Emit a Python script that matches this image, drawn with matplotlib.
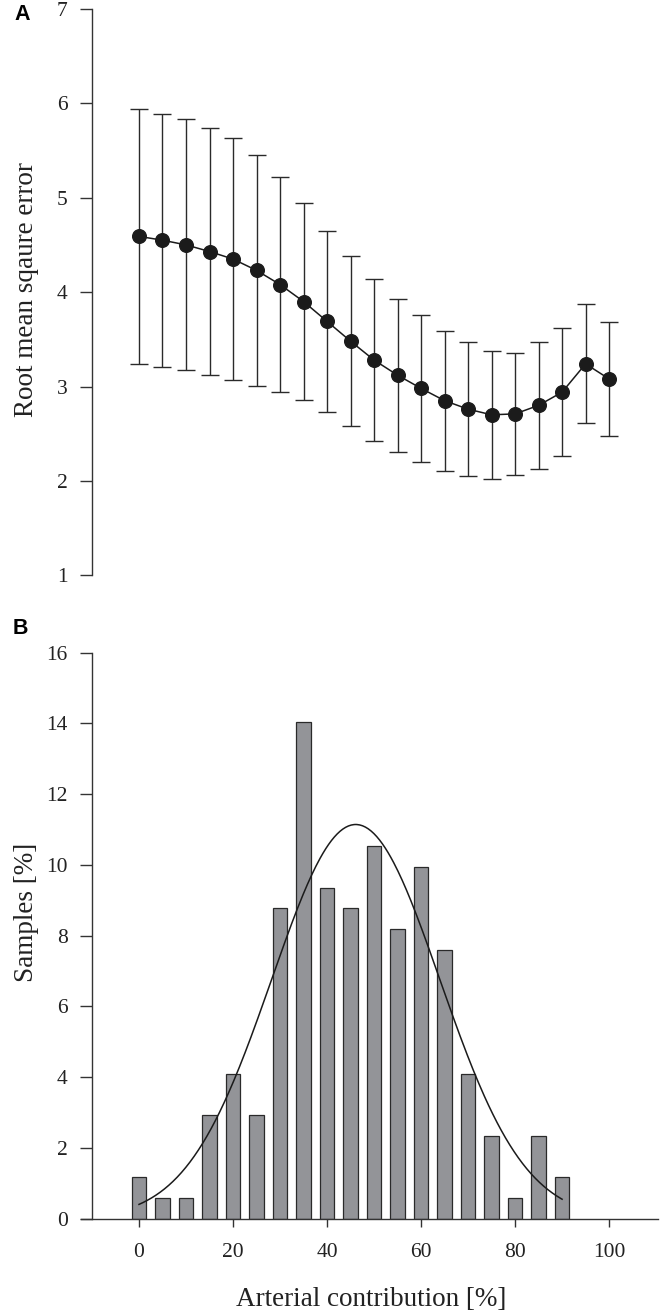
import numpy as np
import matplotlib
matplotlib.use("Agg")
import matplotlib.pyplot as plt

# ---- Panel A data ----
contribution = [0, 5, 10, 15, 20, 25, 30, 35, 40, 45, 50, 55, 60, 65, 70, 75, 80, 85, 90, 95, 100]
rmse_mean = [4.59, 4.55, 4.50, 4.43, 4.35, 4.23, 4.08, 3.90, 3.69, 3.48, 3.28, 3.12, 2.98,
             2.85, 2.76, 2.70, 2.71, 2.80, 2.94, 3.24, 3.08]
rmse_sd = [1.35, 1.34, 1.33, 1.31, 1.28, 1.22, 1.14, 1.04, 0.96, 0.90, 0.86, 0.81, 0.78,
           0.74, 0.71, 0.68, 0.65, 0.67, 0.68, 0.63, 0.60]

# ---- Panel B data ----
bin_centers = [0, 5, 10, 15, 20, 25, 30, 35, 40, 45, 50, 55, 60, 65, 70, 75, 80, 85, 90]
samples_pct = [1.17, 0.58, 0.58, 2.92, 4.09, 2.92, 8.77, 14.04, 9.36, 8.77, 10.53, 8.19,
               9.94, 7.60, 4.09, 2.34, 0.58, 2.34, 1.17]
fit_mu = 46.1
fit_sigma = 17.9
fit_range = [0, 90]
bin_width = 5

W, H = 661, 1315
fig = plt.figure(figsize=(W / 100, H / 100), dpi=100)

serif = ["Liberation Serif", "DejaVu Serif"]
tick_fs = 15.5
label_fs = 19.5
axcol = "#333333"

def px(x0, y_top, x1, y_bot):
    return [x0 / W, 1 - y_bot / H, (x1 - x0) / W, (y_bot - y_top) / H]

xl = (-12.4, 110.4)

# Panel A
axA = fig.add_axes(px(80.7, 8.9, 658, 575.3))
axA.errorbar(contribution, rmse_mean, yerr=rmse_sd, fmt="-o", color="#1b1b1b",
             ecolor="#2a2a2a", elinewidth=1.0, capsize=6.2, capthick=1.0,
             lw=1.1, markersize=9.8, markerfacecolor="#1b1b1b",
             markeredgecolor="#1b1b1b", clip_on=False, zorder=3)
axA.set_xlim(*xl)
axA.set_ylim(1, 7)
axA.spines["left"].set_position(("data", -10))
for s in ["top", "right", "bottom"]:
    axA.spines[s].set_visible(False)
axA.spines["left"].set_color(axcol)
axA.spines["left"].set_linewidth(1.0)
axA.set_xticks([])
axA.set_yticks([1, 2, 3, 4, 5, 6, 7])
axA.tick_params(axis="y", direction="out", length=8.4, width=1.0, color=axcol,
                pad=9, labelsize=tick_fs, labelcolor="#222222")
for t in axA.get_yticklabels():
    t.set_family(serif)

# Panel B
axB = fig.add_axes(px(80.7, 652.7, 658, 1218.7))
axB.bar(bin_centers, samples_pct, width=3.05, color="#939498", edgecolor="#2a2a2a",
        linewidth=0.9, zorder=2)
xf = np.linspace(fit_range[0], fit_range[1], 300)
yf = bin_width * 100 / (fit_sigma * np.sqrt(2 * np.pi)) * np.exp(-0.5 * ((xf - fit_mu) / fit_sigma) ** 2)
axB.plot(xf, yf, color="#1b1b1b", lw=1.1, zorder=3)
axB.set_xlim(*xl)
axB.set_ylim(0, 16)
axB.spines["left"].set_position(("data", -10))
for s in ["top", "right"]:
    axB.spines[s].set_visible(False)
for s in ["left", "bottom"]:
    axB.spines[s].set_color(axcol)
    axB.spines[s].set_linewidth(1.0)
axB.set_xticks([0, 20, 40, 60, 80, 100])
axB.set_yticks(list(range(0, 17, 2)))
axB.tick_params(axis="y", direction="out", length=8.4, width=1.0, color=axcol,
                pad=9, labelsize=tick_fs, labelcolor="#222222")
axB.tick_params(axis="x", direction="out", length=5.5, width=1.0, color=axcol,
                pad=12, labelsize=tick_fs, labelcolor="#222222")
for t in axB.get_yticklabels() + axB.get_xticklabels():
    t.set_family(serif)

# Axis labels as figure text
fig.text(27 / W, 1 - 290 / H, "Root mean sqaure error", rotation=90, ha="center",
         va="center", fontsize=label_fs, family=serif, color="#222222")
fig.text(27 / W, 1 - 912 / H, "Samples [%]", rotation=90, ha="center",
         va="center", fontsize=label_fs, family=serif, color="#222222")
fig.text(371.5 / W, 1 - 1300 / H, "Arterial contribution [%]", ha="center",
         va="center", fontsize=label_fs, family=serif, color="#222222")

# Panel letters
fig.text(14 / W, 1 - 15 / H, "A", ha="left", va="center", fontsize=15.5,
         fontweight="bold", family=["Liberation Sans", "DejaVu Sans"])
fig.text(13 / W, 1 - 629 / H, "B", ha="left", va="center", fontsize=15.5,
         fontweight="bold", family=["Liberation Sans", "DejaVu Sans"])

fig.savefig("out.png", dpi=100)
